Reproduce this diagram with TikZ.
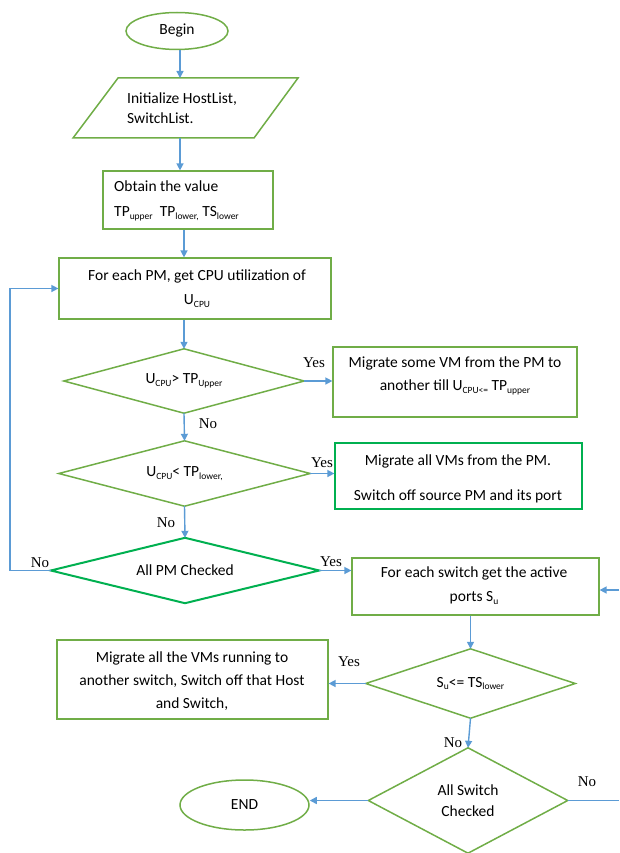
\documentclass[tikz,border=0pt]{standalone}
\usepackage{fontspec}
\setmainfont{Carlito}
\newfontfamily\tnr{Liberation Serif}
\usetikzlibrary{shapes.geometric,arrows.meta}
\definecolor{gr}{HTML}{70AD47}
\definecolor{gb}{HTML}{00B050}
\definecolor{bl}{HTML}{5B9BD5}
\newcommand\mysub[1]{\raisebox{-0.4ex}{\fontsize{9.5}{9.5}\selectfont #1}}
\begin{document}
\begin{tikzpicture}[x=1pt,y=-1pt,
  box/.style={draw=gr,line width=1.2pt,inner sep=0pt,rectangle},
  oval/.style={draw=gr,line width=1.5pt,ellipse,inner sep=0pt,font=\fontsize{15.5}{18}\selectfont},
  dia/.style={rectangle,inner sep=0pt,align=center,font=\fontsize{15.5}{21}\selectfont},
  dline/.style={draw=gr,line width=1.5pt},
  txt/.style={inner sep=0pt,align=center,font=\fontsize{15.5}{23}\selectfont},
  lab/.style={inner sep=0pt,font=\tnr\fontsize{15}{15}\selectfont},
  arr/.style={draw=bl,line width=1.4pt,-{Triangle[length=7pt,width=7pt]}},
  ln/.style={draw=bl,line width=1.4pt}]
\useasboundingbox (0,0) rectangle (619,853);

% nodes
\node[oval,minimum width=102pt,minimum height=37pt] (begin) at (177,31) {Begin};
\draw[gr,line width=1.5pt] (118,78) -- (298,78) -- (254,138) -- (73,138) -- cycle;
\node[txt,align=left,anchor=west,font=\fontsize{15.5}{20}\selectfont] (init) at (127,108) {Initialize HostList,\\SwitchList.};
\coordinate (initTop) at (180,78);
\coordinate (initBot) at (180,138);

\node[box,minimum width=170pt,minimum height=58pt] (obtain) at (188,200) {};
\node[txt,align=left,anchor=west,font=\fontsize{15.5}{25}\selectfont] (obtaint) at (114,200.5) {Obtain the value\\TP\mysub{upper}\ \ TP\mysub{lower,} TS\mysub{lower}};

\node[box,minimum width=272pt,minimum height=61pt] (pm) at (195,288.5) {};
\node[txt,font=\fontsize{15.5}{24}\selectfont] (pmt) at (197,289) {For each PM, get CPU utilization of\\U\mysub{CPU}};

\node[dia,minimum width=240pt,minimum height=64pt] (d1) at (184,381) {U\mysub{CPU}> TP\mysub{Upper}};
\draw[dline] (d1.north) -- (d1.east) -- (d1.south) -- (d1.west) -- cycle;
\node[box,minimum width=244pt,minimum height=70pt] (mv1) at (455,382) {};
\node[txt] (mv1t) at (455,375.5) {Migrate some VM from the PM to\\another till U\mysub{CPU<=} TP\mysub{upper}};

\node[dia,minimum width=251pt,minimum height=65pt] (d2) at (184.5,473.5) {U\mysub{CPU}< TP\mysub{lower,}};
\draw[dline] (d2.north) -- (d2.east) -- (d2.south) -- (d2.west) -- cycle;
\node[box,draw=gb,minimum width=247pt,minimum height=66pt] (mv2) at (458.5,476) {};
\node[txt,font=\fontsize{15.5}{35}\selectfont] (mv2t) at (458,478.5) {Migrate all VMs from the PM.\\Switch off source PM and its port};

\node[dia,minimum width=268pt,minimum height=65pt] (d3) at (185,570.5) {All PM Checked};
\draw[dline,draw=gb,line width=2pt] (d3.north) -- (d3.east) -- (d3.south) -- (d3.west) -- cycle;
\node[box,minimum width=247pt,minimum height=57pt] (sw) at (475.5,586.5) {};
\node[txt,font=\fontsize{15.5}{24}\selectfont] (swt) at (474,586) {For each switch get the active\\ports S\mysub{u}};

\node[dia,minimum width=209pt,minimum height=69pt] (d4) at (470.5,683.5) {S\mysub{u}<= TS\mysub{lower}};
\draw[dline] (d4.north) -- (d4.east) -- (d4.south) -- (d4.west) -- cycle;
\node[box,minimum width=271pt,minimum height=79pt] (mv3) at (192.5,679.5) {};
\node[txt] (mv3t) at (192,681) {Migrate all the VMs running to\\another switch, Switch off that Host\\and Switch,};

\node[dia,minimum width=199pt,minimum height=105pt] (d5) at (468,800.5) {All Switch\\Checked};
\draw[dline] (d5.north) -- (d5.east) -- (d5.south) -- (d5.west) -- cycle;
\node[oval,minimum width=129pt,minimum height=50pt] (end) at (244.5,805) {END};

\coordinate (rOut) at (619,800.5);
\coordinate (rIn) at (619,590);

% connectors
\draw[arr] (initTop |- begin.south) -- (initTop);
\draw[arr] (initBot) -- (initBot |- obtain.north);
\draw[arr] (d1.north |- obtain.south) -- (d1.north |- pm.north);
\draw[arr] (d1.north |- pm.south) -- (d1.north);
\draw[arr] (d1.east) -- (d1.east -| mv1.west);
\draw[arr] (d1.south) -- (d2.north);
\draw[arr] (d2.east) -- (d2.east -| mv2.west);
\draw[arr] (d2.south) -- (d3.north);
\draw[arr] (d3.east) -- (d3.east -| sw.west);
\draw[arr] (d3.west) -- ++(-41,0) |- (pm.west);
\draw[arr] (d4.north |- sw.south) -- (d4.north);
\draw[arr] (d4.west) -- (d4.west -| mv3.east);
\draw[arr] (d4.south) -- (d5.north);
\draw[arr] (d5.west) -- (d5.west -| end.east);
\draw[ln] (d5.east) -- (rOut);
\draw[arr] (rIn) -- (rIn -| sw.east);

% labels
\node[lab] (y1) at (314,363) {Yes};
\node[lab] (n1) at (208,424) {No};
\node[lab] (y2) at (322,463) {Yes};
\node[lab] (n2) at (166,523) {No};
\node[lab] (n3) at (40,563) {No};
\node[lab] (y3) at (331,562) {Yes};
\node[lab] (y4) at (349,662) {Yes};
\node[lab] (n4) at (453,743) {No};
\node[lab] (n5) at (587,782) {No};
\end{tikzpicture}
\end{document}
